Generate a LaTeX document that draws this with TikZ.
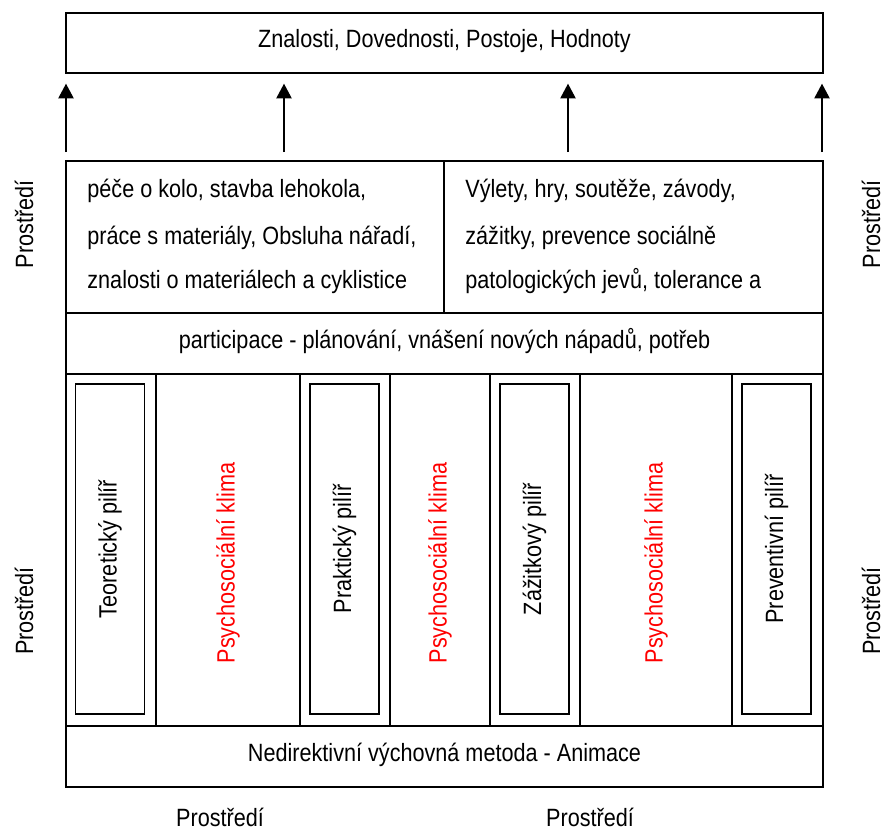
\documentclass[tikz,border=0pt]{standalone}
\usepackage{fontspec}
\setmainfont[FakeStretch=0.865]{Liberation Sans}
\usetikzlibrary{arrows.meta}

\begin{document}
\begin{tikzpicture}[x=0.5pt,y=-0.5pt,
        every node/.style={font=\fontsize{12.5}{14}\selectfont},
        rowbox/.style={rectangle, draw, line width=0.7pt, inner sep=0pt,
                       minimum width=378.5pt, minimum height=30.5pt},
        actbox/.style={rectangle, draw, line width=0.7pt, inner sep=0pt,
                       minimum height=76pt},
        cell/.style={rectangle, draw, line width=0.7pt, inner sep=0pt,
                     minimum height=176pt},
        pillar/.style={rectangle, draw, line width=0.7pt, rotate=90,
                       minimum width=165pt, minimum height=34.5pt},
        climate/.style={rotate=90, text=red},
        txt/.style={anchor=base, inner sep=0pt},
        actline/.style={anchor=base west, inner sep=0pt},
        envlbl/.style={inner sep=0pt},
        flow/.style={-{Triangle[length=7.3pt,width=7.6pt]}, line width=0.7pt,
                     shorten <=4.5pt, shorten >=5pt}
      ]
        \useasboundingbox (0,0) rectangle (883,829);

        % goals on top
        \node[rowbox, minimum height=30pt] (goals) at (444.5,43) {};
        \node[txt] (goalst) at (444.5,48) {Znalosti, Dovednosti, Postoje, Hodnoty};

        % activities
        \node[actbox, minimum width=189pt] (actl) at (255,237) {};
        \node[actbox, minimum width=189.5pt] (actr) at (633.5,237) {};
        \node[actline] (l1) at (87,197) {péče o kolo, stavba lehokola,};
        \node[actline] (l2) at (87,244) {práce s materiály, Obsluha nářadí,};
        \node[actline] (l3) at (87,288) {znalosti o materiálech a cyklistice};
        \node[actline] (r1) at (465,197) {Výlety, hry, soutěže, závody,};
        \node[actline] (r2) at (465,244) {zážitky, prevence sociálně};
        \node[actline] (r3) at (465,288) {patologických jevů, tolerance a};

        % arrows up
        \coordinate (a1) at (66,161);
        \coordinate (a2) at (284,161);
        \coordinate (a3) at (568,161);
        \coordinate (a4) at (822,161);
        \draw[flow] (a1) -- (a1 |- goals.south);
        \draw[flow] (a2) -- (a2 |- goals.south);
        \draw[flow] (a3) -- (a3 |- goals.south);
        \draw[flow] (a4) -- (a4 |- goals.south);

        % participation
        \node[rowbox] (part) at (444.5,343.5) {};
        \node[txt] (partt) at (444.5,348) {participace - plánování, vnášení nových nápadů, potřeb};

        % pillars and climate
        \node[cell, minimum width=45pt] (c1) at (111,550) {};
        \node[cell, minimum width=72pt] (c2) at (228,550) {};
        \node[cell, minimum width=45pt] (c3) at (345,550) {};
        \node[cell, minimum width=50pt] (c4) at (440,550) {};
        \node[cell, minimum width=45pt] (c5) at (535,550) {};
        \node[cell, minimum width=76pt] (c6) at (656,550) {};
        \node[cell, minimum width=45.5pt] (c7) at (777.5,550) {};
        \node[pillar] (p1) at (110,549) {Teoretický pilíř};
        \node[pillar] (p2) at (344.5,549) {Praktický pilíř};
        \node[pillar] (p3) at (534.5,549) {Zážitkový pilíř};
        \node[pillar] (p4) at (776.5,549) {Preventivní pilíř};
        \node[climate] (k1) at (228,563) {Psychosociální klima};
        \node[climate] (k2) at (440,563) {Psychosociální klima};
        \node[climate] (k3) at (656,563) {Psychosociální klima};

        % method
        \node[rowbox] (anim) at (444.5,756.5) {};
        \node[txt] (animt) at (444.5,761) {Nedirektivní výchovná metoda - Animace};

        % environment
        \node[envlbl, rotate=90] (envl1) at (24,224.5) {Prostředí};
        \node[envlbl, rotate=90] (envl2) at (24,611) {Prostředí};
        \node[envlbl, rotate=90] (envr1) at (871,224.5) {Prostředí};
        \node[envlbl, rotate=90] (envr2) at (871,611) {Prostředí};
        \node[txt] (envb1) at (220,826) {Prostředí};
        \node[txt] (envb2) at (590,826) {Prostředí};
      \end{tikzpicture}
\end{document}
